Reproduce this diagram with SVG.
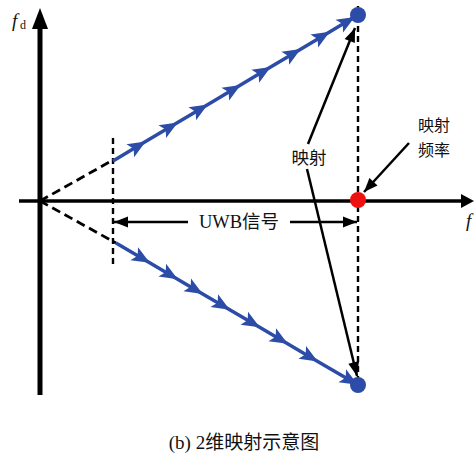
<svg xmlns="http://www.w3.org/2000/svg" width="474" height="459" viewBox="0 0 474 459">
<style>
.txt{font-family:"Liberation Serif","Noto Sans CJK SC",serif;fill:#111}
.ax{stroke:#000;fill:none}
.dash{stroke:#000;stroke-width:2.8;stroke-dasharray:9 5;fill:none}
.vdash{stroke:#000;stroke-width:2.4;stroke-dasharray:6 4;fill:none}
.blue{stroke:#2c4ca8;stroke-width:3.5;fill:none;marker-mid:url(#barr)}
.ptr{stroke:#000;stroke-width:2.5;fill:none}
</style>
<defs>
<marker id="barr" markerUnits="userSpaceOnUse" markerWidth="24" markerHeight="24" viewBox="-12 -12 24 24" refX="0" refY="0" orient="auto">
<path d="M9,0 L-9,-7.5 L-5,0 L-9,7.5 Z" fill="#2c4ca8"/>
</marker>
<marker id="karr" markerUnits="userSpaceOnUse" markerWidth="20" markerHeight="20" viewBox="-16 -10 20 20" refX="0" refY="0" orient="auto">
<path d="M0,0 L-14,-5.5 L-14,5.5 Z" fill="#000"/>
</marker>
</defs>
<g id="axes">
<line class="ax" x1="40" y1="395" x2="40" y2="26" stroke-width="5"/>
<path d="M40,8 L48,29 L32,29 Z" fill="#000"/>
<line class="ax" x1="19" y1="201" x2="463" y2="201" stroke-width="3.5"/>
<path d="M474,201 L461,194 L461,208 Z" fill="#000"/>
</g>
<g id="connectors">
<line class="dash" x1="40" y1="201" x2="113" y2="160"/>
<line class="dash" x1="40" y1="201" x2="116" y2="243"/>
<line class="vdash" x1="113" y1="138" x2="113" y2="265"/>
<line class="vdash" x1="358" y1="6" x2="358" y2="385"/>
<polyline class="blue" points="113,161 138,146.1 170,127 200,109.2 233,89.5 263,71.6 293,53.7 322,36.4 347,21.5 358,15"/>
<polyline class="blue" points="116,243 142,258.3 170,274.7 195,289.4 222,305.2 252,322.8 280,339.3 310,356.9 350,380.3 358,385"/>
<line class="ptr" x1="308" y1="144" x2="355" y2="28" marker-end="url(#karr)"/>
<line class="ptr" x1="307" y1="169" x2="357" y2="376" marker-end="url(#karr)"/>
<line class="ptr" x1="409" y1="143" x2="364" y2="192" marker-end="url(#karr)"/>
<line class="ptr" x1="188" y1="222" x2="114" y2="222" stroke-width="3" marker-end="url(#karr)"/>
<line class="ptr" x1="290" y1="222" x2="357" y2="222" stroke-width="3" marker-end="url(#karr)"/>
</g>
<g id="dot-top"><circle cx="358" cy="15" r="8" fill="#2c4ca8"/></g>
<g id="dot-bottom"><circle cx="358" cy="385" r="8" fill="#2c4ca8"/></g>
<g id="dot-red"><circle cx="358" cy="200" r="8" fill="#ee1111"/></g>
<g id="labels">
<text class="txt" x="12" y="27" font-size="19" font-style="italic">f</text>
<text class="txt" x="20" y="29" font-size="12">d</text>
<text class="txt" x="466" y="227" font-size="19" font-style="italic">f</text>
<text class="txt" x="309" y="164" font-size="17.5" text-anchor="middle">映射</text>
<text class="txt" x="434" y="131" font-size="16" text-anchor="middle">映射</text>
<text class="txt" x="434" y="156" font-size="16" text-anchor="middle">频率</text>
<text class="txt" x="239" y="228" font-size="18.5" text-anchor="middle">UWB信号</text>
<text class="txt" x="244" y="449" font-size="19" text-anchor="middle">(b) 2维映射示意图</text>
</g>
</svg>
